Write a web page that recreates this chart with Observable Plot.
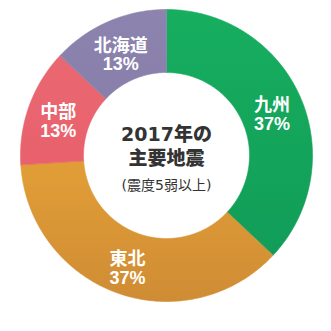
<!DOCTYPE html>
<html>
<head>
<meta charset="utf-8">
<script src="https://cdn.jsdelivr.net/npm/d3@7"></script>
<script src="https://cdn.jsdelivr.net/npm/@observablehq/plot@0.6"></script>
<style>
  html, body { margin: 0; padding: 0; background: #ffffff; }
  #chart { width: 331px; height: 331px; }
</style>
</head>
<body>
<div id="chart"></div>
<script>
// ---- data ----
const regions = ["九州", "東北", "中部", "北海道"];
const shares = [37, 37, 13, 13];
const topColors = ["#17ae5f", "#e19e37", "#ea6871", "#8c83ae"];
const bottomColors = ["#119d58", "#d08c34", "#e8616c", "#8880ab"];
const titleLines = ["2017年の", "主要地震"];
const noteText = "(震度5弱以上)";

// ---- geometry (sizes in px units of the scales) ----
const outerR = 146, innerR = 83, labelR = 115;
const total = d3.sum(shares);
let acc = 0;
const slices = regions.map((name, i) => {
  const a0 = acc / total * 2 * Math.PI;
  acc += shares[i];
  const a1 = acc / total * 2 * Math.PI;
  return {name, share: shares[i], a0, a1, mid: (a0 + a1) / 2, i};
});

function ring(s) {
  const pts = [];
  const n = Math.max(8, Math.ceil((s.a1 - s.a0) * 80));
  for (let k = 0; k <= n; k++) {
    const a = s.a0 + (s.a1 - s.a0) * k / n;
    pts.push({x: outerR * Math.sin(a), y: outerR * Math.cos(a)});
  }
  for (let k = n; k >= 0; k--) {
    const a = s.a0 + (s.a1 - s.a0) * k / n;
    pts.push({x: innerR * Math.sin(a), y: innerR * Math.cos(a)});
  }
  return pts;
}

const shadow = d3.range(0, 121).map(k => {
  const t = k / 120 * 2 * Math.PI;
  return {x: 2 + 112 * Math.cos(t), y: -148 + 8 * Math.sin(t)};
});

const labelFont = "'Liberation Sans', 'Noto Sans CJK JP', sans-serif";
const centerFont = "'DejaVu Sans', 'Noto Sans CJK JP', sans-serif";

const chart = Plot.plot({
  width: 331,
  height: 331,
  margin: 0,
  x: {domain: [-166, 165], axis: null},
  y: {domain: [-176, 155], axis: null},
  marks: [
    Plot.line(shadow, {x: "x", y: "y", fill: "#7a7a7a", fillOpacity: 0.75, stroke: "none", curve: "linear-closed", ariaLabel: "shadow"}),
    ...slices.map(s => Plot.line(ring(s), {
      x: "x", y: "y", curve: "linear-closed",
      fill: `url(#grad-${s.i})`, stroke: `url(#grad-${s.i})`, strokeWidth: 0.6
    })),
    Plot.text(slices, {
      x: d => labelR * Math.sin(d.mid),
      y: d => labelR * Math.cos(d.mid),
      dy: 5,
      text: d => `${d.name}\n${d.share}%`,
      fill: "white", fontSize: 18, fontWeight: "bold", lineHeight: 1.05,
      fontFamily: labelFont
    }),
    Plot.text([titleLines[0]], {x: () => 0, y: () => 0, dy: -21, text: d => d, fill: "#333333", fontSize: 19, fontWeight: 900, fontFamily: centerFont}),
    Plot.text([titleLines[1]], {x: () => 0, y: () => 0, dy: 3.5, text: d => d, fill: "#333333", fontSize: 19, fontWeight: 900, fontFamily: centerFont}),
    Plot.text([noteText], {x: () => 0, y: () => 0, dy: 30, text: d => d, fill: "#333333", fontSize: 14, fontFamily: centerFont})
  ]
});

const svg = d3.select(chart);
const defs = svg.insert("defs", ":first-child");
const blur = defs.append("filter").attr("id", "shadow-blur")
  .attr("x", "-20%").attr("y", "-100%").attr("width", "140%").attr("height", "300%");
blur.append("feGaussianBlur").attr("stdDeviation", 5);
slices.forEach(s => {
  const g = defs.append("linearGradient").attr("id", `grad-${s.i}`)
    .attr("x1", 0).attr("y1", 0).attr("x2", 0).attr("y2", 1);
  g.append("stop").attr("offset", "0%").attr("stop-color", topColors[s.i]);
  g.append("stop").attr("offset", "100%").attr("stop-color", bottomColors[s.i]);
});
svg.selectAll('g[aria-label="shadow"]').attr("filter", "url(#shadow-blur)");

document.getElementById("chart").appendChild(chart);
</script>
</body>
</html>
